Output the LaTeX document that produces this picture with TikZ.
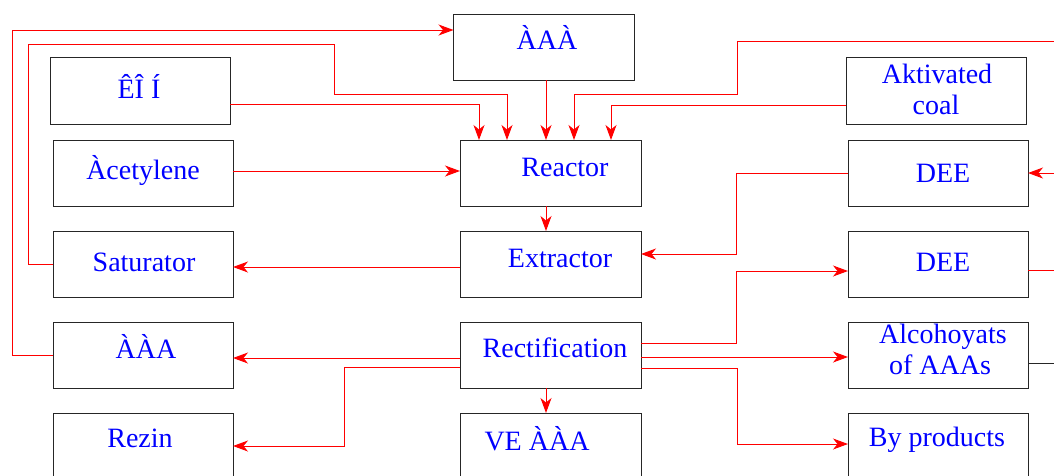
\documentclass[tikz,border=0pt]{standalone}
\usepackage{fontspec}
\setmainfont{Liberation Serif}
\usetikzlibrary{arrows.meta}
\begin{document}
\begin{tikzpicture}[x=1pt,y=-1pt,
  box/.style={draw=black!85,line width=1pt,rectangle,inner sep=0pt,outer sep=0pt,minimum width=181pt,minimum height=66pt},
  lbl/.style={text=blue,font=\fontsize{28}{30}\selectfont,anchor=base,inner sep=0pt},
  arr/.style={draw=red,line width=1pt,-{Stealth[length=15pt,width=11pt,inset=4.5pt]}},
  ln/.style={draw=red,line width=1pt}]
\useasboundingbox (0,0) rectangle (1054,475);
\clip (0,0) rectangle (1054,475);
% boxes
\node[box] (top) at (544,47) {};
\node[box,minimum width=180pt,minimum height=67pt] (ein) at (140,90.5) {};
\node[box,minimum width=180pt] (acet) at (143,173) {};
\node[box,minimum width=180pt] (sat) at (143,264) {};
\node[box,minimum width=180pt] (aaa) at (143,355) {};
\node[box,minimum width=180pt] (rezin) at (143,446) {};
\node[box] (reac) at (550.5,173) {};
\node[box] (extr) at (550.5,264) {};
\node[box] (rect) at (550.5,355) {};
\node[box] (ve) at (550.5,446) {};
\node[box,minimum width=180pt,minimum height=67pt] (coal) at (936,90.5) {};
\node[box,minimum width=180pt] (dee1) at (938,173) {};
\node[box,minimum width=180pt] (dee2) at (938,264) {};
\node[box,minimum width=180pt] (alc) at (938,355) {};
\node[box,minimum width=180pt] (byp) at (938,446) {};
% labels
\node[lbl] at (547,49) {ÀAÀ};
\node[lbl] at (139,98) {ÊÎ Í};
\node[lbl] at (143,179) {Àcetylene};
\node[lbl] at (144,271) {Saturator};
\node[lbl] at (146,358) {ÀÀA};
\node[lbl] at (140,447) {Rezin};
\node[lbl] at (565,176) {Reactor};
\node[lbl] at (560,267) {Extractor};
\node[lbl] at (555,357) {Rectification};
\node[lbl] at (537,450) {VE ÀÀA};
\node[lbl] at (937,83) {Aktivated};
\node[lbl] at (936,114) {coal};
\node[lbl] at (943,182) {DEE};
\node[lbl] at (943,271) {DEE};
\node[lbl] at (943,343) {Alcohoyats};
\node[lbl] at (940,374) {of AAAs};
\node[lbl] at (937,446) {By products};
% free ends
\coordinate (inR) at (1070,41);
\coordinate (outAlc) at (1070,363);
% connectors
\draw[arr] (aaa.west) -| (12,30) -- ([yshift=17pt]top.west);
\draw[arr] (sat.west) -| (28,44) -| (334,94) -| ([xshift=-43.5pt]reac.north);
\draw[arr] ([yshift=-13.5pt]ein.east) -| ([xshift=-71.5pt]reac.north);
\draw[arr] ([xshift=2pt]top.south) -- ([xshift=-4.5pt]reac.north);
\draw[arr] (inR) -| (737,94) -| ([xshift=23.5pt]reac.north);
\draw[arr] ([yshift=-14.5pt]coal.west) -| ([xshift=60.5pt]reac.north);
\draw[arr] ([yshift=2pt]acet.east) -- ([yshift=2pt]reac.west);
\draw[arr] ([xshift=-4.5pt]reac.south) -- ([xshift=-4.5pt]extr.north);
\draw[arr] ([yshift=-3pt]extr.west) -- ([yshift=-3pt]sat.east);
\draw[arr] (dee1.west) -| (736,254) -- ([yshift=10pt]extr.east);
\draw[arr] ([yshift=-6pt]dee2.east) -- (1070,270) |- (dee1.east);
\draw[draw=black!85,line width=1pt] ([yshift=-8pt]alc.east) -- (outAlc);
\draw[arr] ([yshift=12pt]rect.east) -| (736,271) -- ([yshift=-7pt]dee2.west);
\draw[arr] ([yshift=-2pt]rect.east) -- ([yshift=-2pt]alc.west);
\draw[arr] ([yshift=-13pt]rect.east) -| (737,444) -- ([yshift=2pt]byp.west);
\draw[arr] ([yshift=-3pt]rect.west) -- ([yshift=-3pt]aaa.east);
\draw[arr] ([yshift=-12pt]rect.west) -| (344,446) -- (rezin.east);
\draw[arr] ([xshift=-4.5pt]rect.south) -- ([xshift=-4.5pt]ve.north);
\end{tikzpicture}
\end{document}
